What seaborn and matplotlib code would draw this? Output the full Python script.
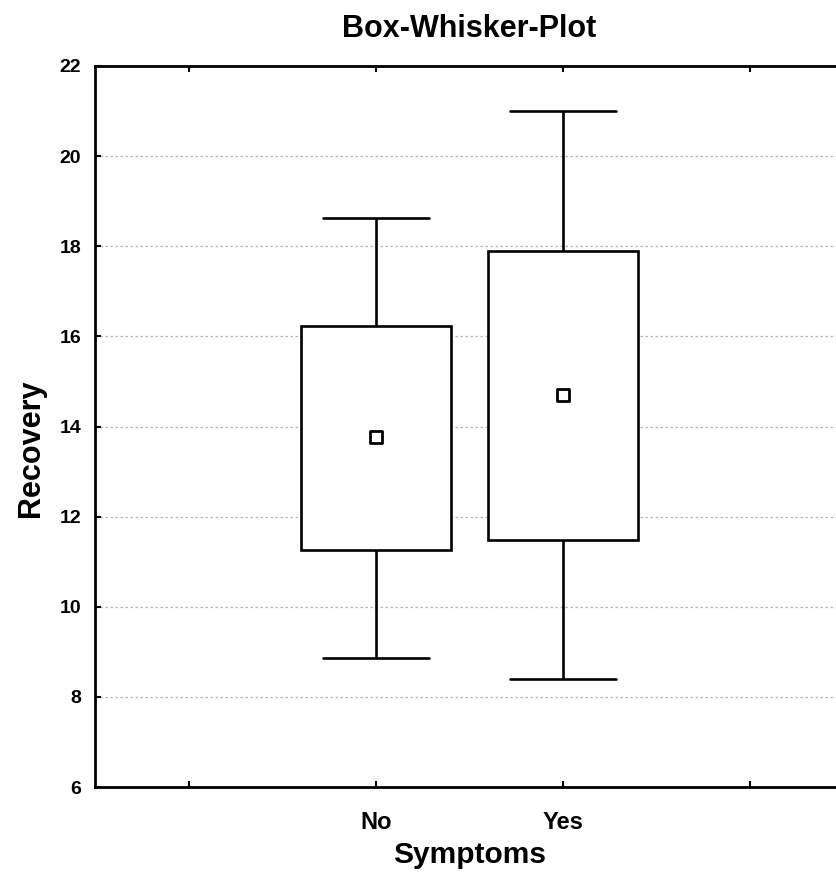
import pandas as pd
import seaborn as sns
import matplotlib.pyplot as plt

# valores (Recovery por Symptoms)
grupos = ["No", "Yes"]
minimos = [8.87, 8.40]
q_baixo = [11.27, 11.48]
medias = [13.77, 14.70]
q_alto = [16.23, 17.90]
maximos = [18.63, 21.01]

# monta uma tabela longa: 5 pontos por grupo geram exatamente a caixa e os bigodes
linhas = []
for g, a, b, c, d, e in zip(grupos, minimos, q_baixo, medias, q_alto, maximos):
    for v in (a, b, c, d, e):
        linhas.append({"Symptoms": g, "Recovery": v})
tabela = pd.DataFrame(linhas)
tabela_medias = pd.DataFrame({"Symptoms": grupos, "Recovery": medias})

sns.set_style("white", {"text.color": "black", "axes.labelcolor": "black",
                        "xtick.color": "black", "ytick.color": "black"})
plt.rcParams["font.family"] = ["Liberation Sans", "DejaVu Sans"]
plt.rcParams["font.weight"] = "bold"

fig = plt.figure(figsize=(8.37, 8.76), dpi=100)
ax = fig.add_axes([95 / 837, 1 - 787 / 876, 749 / 837, 721 / 876])

# categorias em 1 e 2, com posições vazias em 0 e 3 (como no original)
ordem = [" ", "No", "Yes", "  "]
sns.boxplot(data=tabela, x="Symptoms", y="Recovery", order=ordem, ax=ax,
            width=0.8, whis=3.0, fill=True, color="white", linecolor="black",
            linewidth=1.9, showfliers=False, capwidths=0.565,
            medianprops={"linewidth": 0}, zorder=3)

sns.scatterplot(data=tabela_medias, x="Symptoms", y="Recovery", ax=ax,
                marker="s", s=75, facecolor="white", edgecolor="black",
                linewidth=2, zorder=5, legend=False)

ax.set_xlim(-0.5, 3.5)
ax.set_ylim(6, 22)
ax.set_yticks(range(6, 23, 2))
ax.set_xticks([0, 1, 2, 3])
ax.set_xticklabels(["", "No", "Yes", ""])

ax.yaxis.grid(True, color="#b5b5b5", linestyle=(0, (2, 2)), linewidth=0.9)
ax.xaxis.grid(False)
ax.set_axisbelow(True)

for s in ax.spines.values():
    s.set_linewidth(2.0)
    s.set_color("black")

ax.tick_params(axis="both", direction="in", length=4, width=1.5, color="black",
               top=True, left=True, bottom=True, right=False)
ax.tick_params(axis="y", labelsize=14, pad=10)
ax.tick_params(axis="x", labelsize=17, pad=17)

ax.set_xlabel("Symptoms", fontsize=21.5, fontweight="bold", labelpad=5)
ax.set_ylabel("Recovery", fontsize=22, fontweight="bold")
ax.yaxis.set_label_coords(-0.066, 0.47)
ax.set_title("Box-Whisker-Plot", fontsize=22, fontweight="bold", pad=21)

fig.savefig("out.png", dpi=100)
